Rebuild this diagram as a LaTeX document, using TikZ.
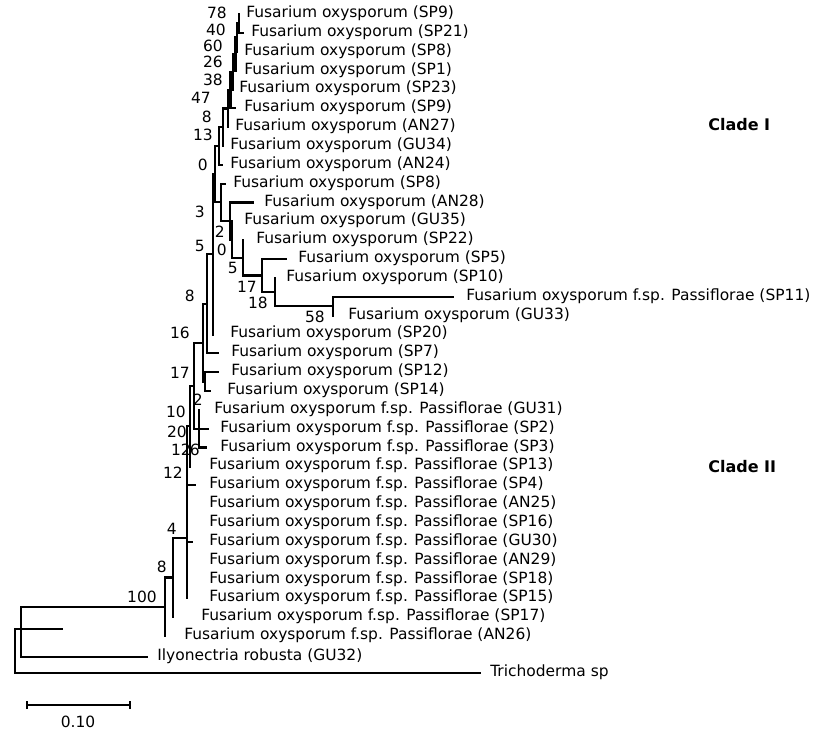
\documentclass[tikz,border=0pt]{standalone}
\usepackage{fontspec}
\setmainfont{DejaVu Sans}
\begin{document}
\begin{tikzpicture}[x=0.75pt,y=-0.75pt,
  br/.style={line width=1.7pt, line cap=rect},
  lf/.style={anchor=west, inner sep=0pt, text height=0.73em, text depth=0.2em, font=\fontsize{11.6}{13}\selectfont},
  bs/.style={anchor=east, inner sep=0pt, text height=0.73em, text depth=0.2em, yshift=-1.5pt, font=\fontsize{11.6}{13}\selectfont},
  cl/.style={anchor=west, inner sep=0pt, font=\fontsize{12}{14}\selectfont\bfseries}]
\useasboundingbox (0,0) rectangle (832,734);
% leaf tips
\coordinate (t1) at (239,14.0);
\coordinate (t2) at (243,32.85);
\coordinate (t3) at (237,51.7);
\coordinate (t4) at (235.5,70.55);
\coordinate (t5) at (233,89.4);
\coordinate (t6) at (235,108.25);
\coordinate (t7) at (228,127.1);
\coordinate (t8) at (223,145.95);
\coordinate (t9) at (222,164.8);
\coordinate (t10) at (225,183.65);
\coordinate (t11) at (253,202.5);
\coordinate (t12) at (232,221.35);
\coordinate (t13) at (243,240.2);
\coordinate (t14) at (286,259.05);
\coordinate (t15) at (275,277.9);
\coordinate (t16) at (453,296.75);
\coordinate (t17) at (333,315.6);
\coordinate (t18) at (213,334.45);
\coordinate (t19) at (218,353.3);
\coordinate (t20) at (218,372.15);
\coordinate (t21) at (210,391.0);
\coordinate (t22) at (199,409.85);
\coordinate (t23) at (208,428.7);
\coordinate (t24) at (206,447.55);
\coordinate (t25) at (190,466.4);
\coordinate (t26) at (195,485.25);
\coordinate (t27) at (187,504.1);
\coordinate (t28) at (187,522.95);
\coordinate (t29) at (192,541.8);
\coordinate (t30) at (187,560.65);
\coordinate (t31) at (187,579.5);
\coordinate (t32) at (187,598.35);
\coordinate (t33) at (173,617.2);
\coordinate (t34) at (165,636.05);
\coordinate (t35) at (147,657);
\coordinate (t36) at (480,673);
% internal nodes
\coordinate (nA) at (239,23.4);
\coordinate (nB) at (237,37.6);
\coordinate (nC) at (235.5,54.1);
\coordinate (nD) at (233,71.7);
\coordinate (nE) at (230.5,90);
\coordinate (nF) at (228,108.5);
\coordinate (nG) at (223,127.2);
\coordinate (nH) at (219,146);
\coordinate (m58) at (333,306.2);
\coordinate (m18) at (275,292);
\coordinate (m17) at (262,275.5);
\coordinate (m5) at (243,257.9);
\coordinate (m0) at (232,239.6);
\coordinate (m2) at (230,221);
\coordinate (m3) at (221,202.3);
\coordinate (nI) at (215,174.2);
\coordinate (nJ) at (213,254.3);
\coordinate (nK) at (207,303.8);
\coordinate (nL) at (205,381.6);
\coordinate (nM) at (203,342.7);
\coordinate (nN) at (199,428.7);
\coordinate (nO) at (194,385.7);
\coordinate (nP) at (190,426);
\coordinate (nQ) at (187,538);
\coordinate (nR) at (173,577.6);
\coordinate (nS) at (165,606.8);
\coordinate (nT) at (21,632);
\coordinate (stub) at (62,629);
\coordinate (root) at (15,651);
% branches
\draw[br] (t1) -| (nA) (t2) -| (nA);
\draw[br] (nA) -| (nB) (t3) -| (nB);
\draw[br] (nB) -| (nC) (t4) -| (nC);
\draw[br] (nC) -| (nD) (t5) -| (nD);
\draw[br] (nD) -| (nE) (t6) -| (nE);
\draw[br] (nE) -| (nF) (t7) -| (nF);
\draw[br] (nF) -| (nG) (t8) -| (nG);
\draw[br] (nG) -| (nH) (t9) -| (nH);
\draw[br] (t16) -| (m58) (t17) -| (m58);
\draw[br] (t15) -| (m18) (m58) -| (m18);
\draw[br] (t14) -| (m17) (m18) -| (m17);
\draw[br] (t13) -| (m5) (m17) -| (m5);
\draw[br] (t12) -| (m0) (m5) -| (m0);
\draw[br] (t11) -| (m2) (m0) -| (m2);
\draw[br] (t10) -| (m3) (m2) -| (m3);
\draw[br] (nH) -| (nI) (m3) -| (nI);
\draw[br] (nI) -| (nJ) (t18) -| (nJ);
\draw[br] (nJ) -| (nK) (t19) -| (nK);
\draw[br] (t20) -| (nL) (t21) -| (nL);
\draw[br] (nK) -| (nM) (nL) -| (nM);
\draw[br] (t22) -| (nN) (t23) -| (nN) (t24) -| (nN);
\draw[br] (nM) -| (nO) (nN) -| (nO);
\draw[br] (nO) -| (nP) (t25) -| (nP);
\draw[br] (nP) -| (nQ) (t26) -| (nQ) (t27) -| (nQ) (t28) -| (nQ) (t29) -| (nQ)
  (t30) -| (nQ) (t31) -| (nQ) (t32) -| (nQ);
\draw[br] (nQ) -| (nR) (t33) -| (nR);
\draw[br] (nR) -| (nS) (t34) -| (nS);
\draw[br] (nS) -| (nT) (t35) -| (nT);
\draw[br] (stub) -| (root) (t36) -| (root);
% leaf labels
\node[lf] (L1) at (246,14.0) {Fusarium oxysporum (SP9)};
\node[lf] (L2) at (251,32.85) {Fusarium oxysporum (SP21)};
\node[lf] (L3) at (244,51.7) {Fusarium oxysporum (SP8)};
\node[lf] (L4) at (244,70.55) {Fusarium oxysporum (SP1)};
\node[lf] (L5) at (239,89.4) {Fusarium oxysporum (SP23)};
\node[lf] (L6) at (244,108.25) {Fusarium oxysporum (SP9)};
\node[lf] (L7) at (235,127.1) {Fusarium oxysporum (AN27)};
\node[lf] (L8) at (230,145.95) {Fusarium oxysporum (GU34)};
\node[lf] (L9) at (230,164.8) {Fusarium oxysporum (AN24)};
\node[lf] (L10) at (233,183.65) {Fusarium oxysporum (SP8)};
\node[lf] (L11) at (264,202.5) {Fusarium oxysporum (AN28)};
\node[lf] (L12) at (244,221.35) {Fusarium oxysporum (GU35)};
\node[lf] (L13) at (256,240.2) {Fusarium oxysporum (SP22)};
\node[lf] (L14) at (298,259.05) {Fusarium oxysporum (SP5)};
\node[lf] (L15) at (286,277.9) {Fusarium oxysporum (SP10)};
\node[lf] (L16) at (466,296.75) {Fusarium oxysporum f.sp. Passiflorae (SP11)};
\node[lf] (L17) at (348,315.6) {Fusarium oxysporum (GU33)};
\node[lf] (L18) at (230,334.45) {Fusarium oxysporum (SP20)};
\node[lf] (L19) at (231,353.3) {Fusarium oxysporum (SP7)};
\node[lf] (L20) at (231,372.15) {Fusarium oxysporum (SP12)};
\node[lf] (L21) at (227,391.0) {Fusarium oxysporum (SP14)};
\node[lf] (L22) at (214,409.85) {Fusarium oxysporum f.sp. Passiflorae (GU31)};
\node[lf] (L23) at (220,428.7) {Fusarium oxysporum f.sp. Passiflorae (SP2)};
\node[lf] (L24) at (220,447.55) {Fusarium oxysporum f.sp. Passiflorae (SP3)};
\node[lf] (L25) at (209,466.4) {Fusarium oxysporum f.sp. Passiflorae (SP13)};
\node[lf] (L26) at (209,485.25) {Fusarium oxysporum f.sp. Passiflorae (SP4)};
\node[lf] (L27) at (209,504.1) {Fusarium oxysporum f.sp. Passiflorae (AN25)};
\node[lf] (L28) at (209,522.95) {Fusarium oxysporum f.sp. Passiflorae (SP16)};
\node[lf] (L29) at (209,541.8) {Fusarium oxysporum f.sp. Passiflorae (GU30)};
\node[lf] (L30) at (209,560.65) {Fusarium oxysporum f.sp. Passiflorae (AN29)};
\node[lf] (L31) at (209,579.5) {Fusarium oxysporum f.sp. Passiflorae (SP18)};
\node[lf] (L32) at (209,598.35) {Fusarium oxysporum f.sp. Passiflorae (SP15)};
\node[lf] (L33) at (201,617.2) {Fusarium oxysporum f.sp. Passiflorae (SP17)};
\node[lf] (L34) at (184,636.05) {Fusarium oxysporum f.sp. Passiflorae (AN26)};
\node[lf] (L35) at (157,657) {Ilyonectria robusta (GU32)};
\node[lf] (L36) at (490,673) {Trichoderma sp};
% bootstrap values
\node[bs] (b1) at (227,13) {78};
\node[bs] (b2) at (226,30) {40};
\node[bs] (b3) at (223,46) {60};
\node[bs] (b4) at (223,62) {26};
\node[bs] (b5) at (223,80) {38};
\node[bs] (b6) at (211,98) {47};
\node[bs] (b7) at (212,117) {8};
\node[bs] (b8) at (213,135) {13};
\node[bs] (b9) at (208,165) {0};
\node[bs] (b10) at (205,212) {3};
\node[bs] (b11) at (225,232) {2};
\node[bs] (b12) at (227,250) {0};
\node[bs] (b13) at (205,246) {5};
\node[bs] (b14) at (238,268) {5};
\node[bs] (b15) at (257,287) {17};
\node[bs] (b16) at (268,303) {18};
\node[bs] (b17) at (325,317) {58};
\node[bs] (b18) at (195,296) {8};
\node[bs] (b19) at (190,333) {16};
\node[bs] (b20) at (190,373) {17};
\node[bs] (b21) at (203,400) {2};
\node[bs] (b22) at (186,412) {10};
\node[bs] (b23) at (187,432) {20};
\node[bs] (b24) at (191,450) {12};
\node[bs] (b25) at (200,450) {6};
\node[bs] (b26) at (183,473) {12};
\node[bs] (b27) at (177,529) {4};
\node[bs] (b28) at (167,567) {8};
\node[bs] (b29) at (157,597) {100};
% clade labels
\node[cl] (c1) at (708,125) {Clade I};
\node[cl] (c2) at (708,467) {Clade II};
% scale bar
\coordinate (s1) at (26.7,705);
\coordinate (s2) at (130,705);
\draw[line width=1.7pt] (s1) -- (s2);
\draw[line width=1.4pt] ([yshift=-3]s1) -- ([yshift=3]s1) ([yshift=-3]s2) -- ([yshift=3]s2);
\node[lf, anchor=center] (sl) at (78,724) {0.10};
\end{tikzpicture}
\end{document}
